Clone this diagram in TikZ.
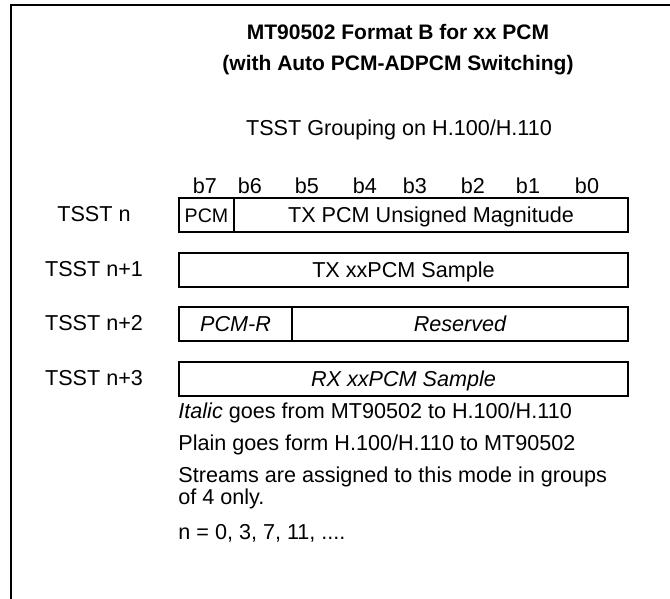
\documentclass[tikz,border=0pt]{standalone}
\usepackage{fontspec}
\setmainfont{Liberation Sans}
\usetikzlibrary{positioning}

\tikzset{
  txt/.style={font=\fontsize{10.8pt}{13pt}\selectfont, inner sep=0pt, text height=7.7pt, text depth=0pt},
  ttl/.style={txt, font=\fontsize{10.5pt}{13pt}\selectfont\bfseries},
  field/.style={txt, draw, line width=1pt, minimum height=17pt, anchor=north west},
}

\begin{document}
\begin{tikzpicture}[x=0.5pt, y=-0.5pt]
  \useasboundingbox (0,0) rectangle (670,599);
  % frame
  \draw[line width=1pt] (11,599) -- (11,5) -- (670,5);

  % heading
  \node[ttl] (title1) at (398,32) {MT90502 Format B for xx PCM};
  \node[ttl] (title2) at (398,63) {(with Auto PCM-ADPCM Switching)};
  \node[txt] (group) at (399,128) {TSST Grouping on H.100/H.110};

  % bit numbers
  \foreach \b/\x in {7/205,6/250,5/307,4/365,3/415,2/473,1/528,0/587}
    \node[txt] (b\b) at (\x,186) {b\b};

  % rows
  \node[field, minimum width=27.5pt, font=\fontsize{9.8pt}{12pt}\selectfont, text height=7pt] (pcm) at (178,197) {PCM};
  \node[field, minimum width=197pt] (mag) at (233,197) {TX PCM Unsigned Magnitude};
  \node[field, minimum width=224.5pt] (txs) at (178,251.5) {TX xxPCM Sample};
  \node[field, minimum width=56.5pt, font=\fontsize{10.8pt}{13pt}\selectfont\itshape] (pcmr) at (178,306) {PCM-R};
  \node[field, minimum width=168pt, font=\fontsize{10.8pt}{13pt}\selectfont\itshape] (resv) at (291,306) {Reserved};
  \node[field, minimum width=224.5pt, font=\fontsize{10.8pt}{13pt}\selectfont\itshape] (rxs) at (178,360.5) {RX xxPCM Sample};

  \node[txt] (tsst0) at (94,214) {TSST n};
  \node[txt] (tsst1) at (94,268.5) {TSST n+1};
  \node[txt] (tsst2) at (94,323) {TSST n+2};
  \node[txt] (tsst3) at (94,377.5) {TSST n+3};

  % notes
  \node[txt, anchor=west] (note1) at (178,411) {\textit{Italic} goes from MT90502 to H.100/H.110};
  \node[txt, anchor=west] (note2) at (178,443) {Plain goes form H.100/H.110 to MT90502};
  \node[txt, anchor=west] (note3) at (178,475) {Streams are assigned to this mode in groups};
  \node[txt, anchor=west] (note4) at (178,497) {of 4 only.};
  \node[txt, anchor=west] (note5) at (178,532) {n = 0, 3, 7, 11, ....};
\end{tikzpicture}
\end{document}
